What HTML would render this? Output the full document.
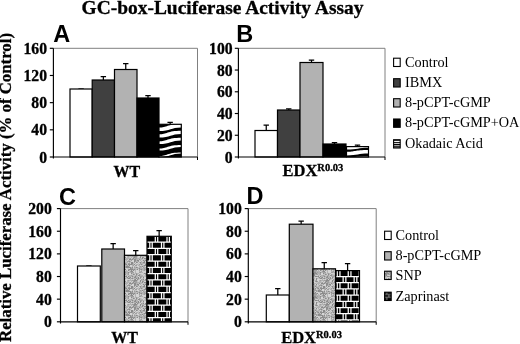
<!DOCTYPE html>
<html><head><meta charset="utf-8"><title>GC-box-Luciferase Activity Assay</title>
<style>html,body{margin:0;padding:0;background:#fff}svg{display:block;filter:grayscale(1)}</style></head><body>
<svg width="520" height="344" viewBox="0 0 520 344">
<defs>
<pattern id="zebra" patternUnits="userSpaceOnUse" width="22" height="8" patternTransform="translate(159,124)"><rect width="22" height="8" fill="#fff"/><path d="M-2 7 C4 7.5 10 4.5 14 3 S22 0.5 24 1.2 L24 4.8 C20 4.2 17 5.5 13 7 S4 11 -2 10.6Z" fill="#000"/><path d="M-2 -1 C4 -0.5 10 -3.5 14 -5 L14 -1 C10 1 4 3 -2 2.6Z" fill="#000"/></pattern>
<pattern id="brick" patternUnits="userSpaceOnUse" width="12.25" height="12.4"><rect width="12.25" height="12.4" fill="#000"/><path d="M0 0.5H12.25M0 6.7H12.25" stroke="#fff" stroke-width="1.1"/><path d="M2.6 0.5V6.7M5.2 0.5V6.7M8.7 6.7V12.9M11.3 6.7V12.9" stroke="#fff" stroke-width="1"/></pattern>
<pattern id="speck" patternUnits="userSpaceOnUse" width="24" height="24"><rect width="24" height="24" fill="#b2b2b2"/><rect x="0" y="0" width="1" height="1" fill="#d2d2d2"/><rect x="1" y="0" width="1" height="1" fill="#8a8a8a"/><rect x="3" y="0" width="1" height="1" fill="#8a8a8a"/><rect x="4" y="0" width="1" height="1" fill="#c4c4c4"/><rect x="5" y="0" width="1" height="1" fill="#9e9e9e"/><rect x="6" y="0" width="1" height="1" fill="#8a8a8a"/><rect x="7" y="0" width="1" height="1" fill="#c4c4c4"/><rect x="8" y="0" width="1" height="1" fill="#8a8a8a"/><rect x="9" y="0" width="1" height="1" fill="#9e9e9e"/><rect x="10" y="0" width="1" height="1" fill="#8a8a8a"/><rect x="11" y="0" width="1" height="1" fill="#8a8a8a"/><rect x="12" y="0" width="1" height="1" fill="#9e9e9e"/><rect x="14" y="0" width="1" height="1" fill="#8a8a8a"/><rect x="15" y="0" width="1" height="1" fill="#d2d2d2"/><rect x="18" y="0" width="1" height="1" fill="#c4c4c4"/><rect x="19" y="0" width="1" height="1" fill="#9e9e9e"/><rect x="21" y="0" width="1" height="1" fill="#8a8a8a"/><rect x="23" y="0" width="1" height="1" fill="#d2d2d2"/><rect x="0" y="1" width="1" height="1" fill="#8a8a8a"/><rect x="1" y="1" width="1" height="1" fill="#8a8a8a"/><rect x="2" y="1" width="1" height="1" fill="#d2d2d2"/><rect x="4" y="1" width="1" height="1" fill="#d2d2d2"/><rect x="5" y="1" width="1" height="1" fill="#c4c4c4"/><rect x="7" y="1" width="1" height="1" fill="#9e9e9e"/><rect x="8" y="1" width="1" height="1" fill="#c4c4c4"/><rect x="9" y="1" width="1" height="1" fill="#8a8a8a"/><rect x="10" y="1" width="1" height="1" fill="#8a8a8a"/><rect x="11" y="1" width="1" height="1" fill="#d2d2d2"/><rect x="13" y="1" width="1" height="1" fill="#9e9e9e"/><rect x="14" y="1" width="1" height="1" fill="#d2d2d2"/><rect x="15" y="1" width="1" height="1" fill="#c4c4c4"/><rect x="16" y="1" width="1" height="1" fill="#9e9e9e"/><rect x="17" y="1" width="1" height="1" fill="#d2d2d2"/><rect x="20" y="1" width="1" height="1" fill="#d2d2d2"/><rect x="21" y="1" width="1" height="1" fill="#c4c4c4"/><rect x="22" y="1" width="1" height="1" fill="#c4c4c4"/><rect x="1" y="2" width="1" height="1" fill="#d2d2d2"/><rect x="3" y="2" width="1" height="1" fill="#8a8a8a"/><rect x="4" y="2" width="1" height="1" fill="#9e9e9e"/><rect x="6" y="2" width="1" height="1" fill="#8a8a8a"/><rect x="7" y="2" width="1" height="1" fill="#c4c4c4"/><rect x="8" y="2" width="1" height="1" fill="#8a8a8a"/><rect x="11" y="2" width="1" height="1" fill="#c4c4c4"/><rect x="13" y="2" width="1" height="1" fill="#d2d2d2"/><rect x="15" y="2" width="1" height="1" fill="#c4c4c4"/><rect x="16" y="2" width="1" height="1" fill="#c4c4c4"/><rect x="17" y="2" width="1" height="1" fill="#9e9e9e"/><rect x="20" y="2" width="1" height="1" fill="#9e9e9e"/><rect x="22" y="2" width="1" height="1" fill="#8a8a8a"/><rect x="3" y="3" width="1" height="1" fill="#d2d2d2"/><rect x="4" y="3" width="1" height="1" fill="#9e9e9e"/><rect x="6" y="3" width="1" height="1" fill="#8a8a8a"/><rect x="7" y="3" width="1" height="1" fill="#9e9e9e"/><rect x="8" y="3" width="1" height="1" fill="#d2d2d2"/><rect x="9" y="3" width="1" height="1" fill="#8a8a8a"/><rect x="10" y="3" width="1" height="1" fill="#8a8a8a"/><rect x="12" y="3" width="1" height="1" fill="#8a8a8a"/><rect x="13" y="3" width="1" height="1" fill="#d2d2d2"/><rect x="14" y="3" width="1" height="1" fill="#9e9e9e"/><rect x="16" y="3" width="1" height="1" fill="#8a8a8a"/><rect x="17" y="3" width="1" height="1" fill="#9e9e9e"/><rect x="18" y="3" width="1" height="1" fill="#c4c4c4"/><rect x="22" y="3" width="1" height="1" fill="#d2d2d2"/><rect x="23" y="3" width="1" height="1" fill="#9e9e9e"/><rect x="0" y="4" width="1" height="1" fill="#9e9e9e"/><rect x="3" y="4" width="1" height="1" fill="#8a8a8a"/><rect x="4" y="4" width="1" height="1" fill="#d2d2d2"/><rect x="5" y="4" width="1" height="1" fill="#d2d2d2"/><rect x="6" y="4" width="1" height="1" fill="#d2d2d2"/><rect x="7" y="4" width="1" height="1" fill="#c4c4c4"/><rect x="8" y="4" width="1" height="1" fill="#c4c4c4"/><rect x="9" y="4" width="1" height="1" fill="#d2d2d2"/><rect x="10" y="4" width="1" height="1" fill="#8a8a8a"/><rect x="11" y="4" width="1" height="1" fill="#9e9e9e"/><rect x="12" y="4" width="1" height="1" fill="#9e9e9e"/><rect x="13" y="4" width="1" height="1" fill="#c4c4c4"/><rect x="16" y="4" width="1" height="1" fill="#c4c4c4"/><rect x="19" y="4" width="1" height="1" fill="#8a8a8a"/><rect x="0" y="5" width="1" height="1" fill="#9e9e9e"/><rect x="1" y="5" width="1" height="1" fill="#9e9e9e"/><rect x="2" y="5" width="1" height="1" fill="#8a8a8a"/><rect x="4" y="5" width="1" height="1" fill="#8a8a8a"/><rect x="5" y="5" width="1" height="1" fill="#8a8a8a"/><rect x="6" y="5" width="1" height="1" fill="#d2d2d2"/><rect x="7" y="5" width="1" height="1" fill="#d2d2d2"/><rect x="8" y="5" width="1" height="1" fill="#9e9e9e"/><rect x="9" y="5" width="1" height="1" fill="#8a8a8a"/><rect x="10" y="5" width="1" height="1" fill="#8a8a8a"/><rect x="11" y="5" width="1" height="1" fill="#8a8a8a"/><rect x="12" y="5" width="1" height="1" fill="#8a8a8a"/><rect x="13" y="5" width="1" height="1" fill="#9e9e9e"/><rect x="14" y="5" width="1" height="1" fill="#8a8a8a"/><rect x="17" y="5" width="1" height="1" fill="#8a8a8a"/><rect x="18" y="5" width="1" height="1" fill="#d2d2d2"/><rect x="19" y="5" width="1" height="1" fill="#9e9e9e"/><rect x="20" y="5" width="1" height="1" fill="#9e9e9e"/><rect x="21" y="5" width="1" height="1" fill="#8a8a8a"/><rect x="0" y="6" width="1" height="1" fill="#9e9e9e"/><rect x="1" y="6" width="1" height="1" fill="#c4c4c4"/><rect x="2" y="6" width="1" height="1" fill="#8a8a8a"/><rect x="3" y="6" width="1" height="1" fill="#8a8a8a"/><rect x="4" y="6" width="1" height="1" fill="#9e9e9e"/><rect x="5" y="6" width="1" height="1" fill="#d2d2d2"/><rect x="7" y="6" width="1" height="1" fill="#d2d2d2"/><rect x="8" y="6" width="1" height="1" fill="#8a8a8a"/><rect x="10" y="6" width="1" height="1" fill="#c4c4c4"/><rect x="11" y="6" width="1" height="1" fill="#8a8a8a"/><rect x="12" y="6" width="1" height="1" fill="#c4c4c4"/><rect x="13" y="6" width="1" height="1" fill="#8a8a8a"/><rect x="14" y="6" width="1" height="1" fill="#c4c4c4"/><rect x="18" y="6" width="1" height="1" fill="#d2d2d2"/><rect x="19" y="6" width="1" height="1" fill="#9e9e9e"/><rect x="20" y="6" width="1" height="1" fill="#d2d2d2"/><rect x="22" y="6" width="1" height="1" fill="#c4c4c4"/><rect x="0" y="7" width="1" height="1" fill="#d2d2d2"/><rect x="1" y="7" width="1" height="1" fill="#d2d2d2"/><rect x="8" y="7" width="1" height="1" fill="#d2d2d2"/><rect x="9" y="7" width="1" height="1" fill="#c4c4c4"/><rect x="10" y="7" width="1" height="1" fill="#9e9e9e"/><rect x="11" y="7" width="1" height="1" fill="#8a8a8a"/><rect x="12" y="7" width="1" height="1" fill="#8a8a8a"/><rect x="13" y="7" width="1" height="1" fill="#d2d2d2"/><rect x="14" y="7" width="1" height="1" fill="#d2d2d2"/><rect x="17" y="7" width="1" height="1" fill="#9e9e9e"/><rect x="21" y="7" width="1" height="1" fill="#9e9e9e"/><rect x="22" y="7" width="1" height="1" fill="#d2d2d2"/><rect x="23" y="7" width="1" height="1" fill="#d2d2d2"/><rect x="0" y="8" width="1" height="1" fill="#d2d2d2"/><rect x="1" y="8" width="1" height="1" fill="#d2d2d2"/><rect x="5" y="8" width="1" height="1" fill="#9e9e9e"/><rect x="8" y="8" width="1" height="1" fill="#8a8a8a"/><rect x="13" y="8" width="1" height="1" fill="#9e9e9e"/><rect x="14" y="8" width="1" height="1" fill="#d2d2d2"/><rect x="16" y="8" width="1" height="1" fill="#d2d2d2"/><rect x="19" y="8" width="1" height="1" fill="#9e9e9e"/><rect x="20" y="8" width="1" height="1" fill="#9e9e9e"/><rect x="23" y="8" width="1" height="1" fill="#d2d2d2"/><rect x="0" y="9" width="1" height="1" fill="#8a8a8a"/><rect x="1" y="9" width="1" height="1" fill="#8a8a8a"/><rect x="4" y="9" width="1" height="1" fill="#8a8a8a"/><rect x="8" y="9" width="1" height="1" fill="#9e9e9e"/><rect x="9" y="9" width="1" height="1" fill="#c4c4c4"/><rect x="10" y="9" width="1" height="1" fill="#8a8a8a"/><rect x="11" y="9" width="1" height="1" fill="#8a8a8a"/><rect x="14" y="9" width="1" height="1" fill="#c4c4c4"/><rect x="16" y="9" width="1" height="1" fill="#9e9e9e"/><rect x="19" y="9" width="1" height="1" fill="#d2d2d2"/><rect x="20" y="9" width="1" height="1" fill="#d2d2d2"/><rect x="21" y="9" width="1" height="1" fill="#d2d2d2"/><rect x="22" y="9" width="1" height="1" fill="#d2d2d2"/><rect x="23" y="9" width="1" height="1" fill="#c4c4c4"/><rect x="0" y="10" width="1" height="1" fill="#d2d2d2"/><rect x="1" y="10" width="1" height="1" fill="#9e9e9e"/><rect x="2" y="10" width="1" height="1" fill="#8a8a8a"/><rect x="4" y="10" width="1" height="1" fill="#9e9e9e"/><rect x="5" y="10" width="1" height="1" fill="#9e9e9e"/><rect x="6" y="10" width="1" height="1" fill="#c4c4c4"/><rect x="8" y="10" width="1" height="1" fill="#9e9e9e"/><rect x="10" y="10" width="1" height="1" fill="#c4c4c4"/><rect x="11" y="10" width="1" height="1" fill="#c4c4c4"/><rect x="12" y="10" width="1" height="1" fill="#c4c4c4"/><rect x="13" y="10" width="1" height="1" fill="#8a8a8a"/><rect x="14" y="10" width="1" height="1" fill="#9e9e9e"/><rect x="15" y="10" width="1" height="1" fill="#d2d2d2"/><rect x="16" y="10" width="1" height="1" fill="#8a8a8a"/><rect x="18" y="10" width="1" height="1" fill="#d2d2d2"/><rect x="19" y="10" width="1" height="1" fill="#9e9e9e"/><rect x="21" y="10" width="1" height="1" fill="#c4c4c4"/><rect x="22" y="10" width="1" height="1" fill="#d2d2d2"/><rect x="23" y="10" width="1" height="1" fill="#c4c4c4"/><rect x="0" y="11" width="1" height="1" fill="#c4c4c4"/><rect x="2" y="11" width="1" height="1" fill="#8a8a8a"/><rect x="3" y="11" width="1" height="1" fill="#c4c4c4"/><rect x="4" y="11" width="1" height="1" fill="#d2d2d2"/><rect x="5" y="11" width="1" height="1" fill="#d2d2d2"/><rect x="7" y="11" width="1" height="1" fill="#c4c4c4"/><rect x="8" y="11" width="1" height="1" fill="#c4c4c4"/><rect x="11" y="11" width="1" height="1" fill="#9e9e9e"/><rect x="13" y="11" width="1" height="1" fill="#c4c4c4"/><rect x="14" y="11" width="1" height="1" fill="#c4c4c4"/><rect x="16" y="11" width="1" height="1" fill="#9e9e9e"/><rect x="17" y="11" width="1" height="1" fill="#c4c4c4"/><rect x="18" y="11" width="1" height="1" fill="#9e9e9e"/><rect x="23" y="11" width="1" height="1" fill="#d2d2d2"/><rect x="0" y="12" width="1" height="1" fill="#c4c4c4"/><rect x="3" y="12" width="1" height="1" fill="#8a8a8a"/><rect x="4" y="12" width="1" height="1" fill="#8a8a8a"/><rect x="5" y="12" width="1" height="1" fill="#9e9e9e"/><rect x="6" y="12" width="1" height="1" fill="#8a8a8a"/><rect x="7" y="12" width="1" height="1" fill="#d2d2d2"/><rect x="8" y="12" width="1" height="1" fill="#8a8a8a"/><rect x="12" y="12" width="1" height="1" fill="#8a8a8a"/><rect x="15" y="12" width="1" height="1" fill="#8a8a8a"/><rect x="18" y="12" width="1" height="1" fill="#d2d2d2"/><rect x="20" y="12" width="1" height="1" fill="#9e9e9e"/><rect x="21" y="12" width="1" height="1" fill="#c4c4c4"/><rect x="0" y="13" width="1" height="1" fill="#d2d2d2"/><rect x="1" y="13" width="1" height="1" fill="#9e9e9e"/><rect x="2" y="13" width="1" height="1" fill="#c4c4c4"/><rect x="3" y="13" width="1" height="1" fill="#d2d2d2"/><rect x="4" y="13" width="1" height="1" fill="#d2d2d2"/><rect x="5" y="13" width="1" height="1" fill="#d2d2d2"/><rect x="7" y="13" width="1" height="1" fill="#8a8a8a"/><rect x="8" y="13" width="1" height="1" fill="#c4c4c4"/><rect x="9" y="13" width="1" height="1" fill="#9e9e9e"/><rect x="10" y="13" width="1" height="1" fill="#8a8a8a"/><rect x="11" y="13" width="1" height="1" fill="#d2d2d2"/><rect x="13" y="13" width="1" height="1" fill="#c4c4c4"/><rect x="14" y="13" width="1" height="1" fill="#8a8a8a"/><rect x="18" y="13" width="1" height="1" fill="#8a8a8a"/><rect x="19" y="13" width="1" height="1" fill="#d2d2d2"/><rect x="20" y="13" width="1" height="1" fill="#8a8a8a"/><rect x="22" y="13" width="1" height="1" fill="#d2d2d2"/><rect x="23" y="13" width="1" height="1" fill="#8a8a8a"/><rect x="0" y="14" width="1" height="1" fill="#9e9e9e"/><rect x="3" y="14" width="1" height="1" fill="#d2d2d2"/><rect x="4" y="14" width="1" height="1" fill="#8a8a8a"/><rect x="6" y="14" width="1" height="1" fill="#c4c4c4"/><rect x="8" y="14" width="1" height="1" fill="#8a8a8a"/><rect x="9" y="14" width="1" height="1" fill="#8a8a8a"/><rect x="11" y="14" width="1" height="1" fill="#9e9e9e"/><rect x="12" y="14" width="1" height="1" fill="#8a8a8a"/><rect x="16" y="14" width="1" height="1" fill="#8a8a8a"/><rect x="18" y="14" width="1" height="1" fill="#8a8a8a"/><rect x="20" y="14" width="1" height="1" fill="#9e9e9e"/><rect x="21" y="14" width="1" height="1" fill="#d2d2d2"/><rect x="22" y="14" width="1" height="1" fill="#c4c4c4"/><rect x="0" y="15" width="1" height="1" fill="#d2d2d2"/><rect x="1" y="15" width="1" height="1" fill="#8a8a8a"/><rect x="2" y="15" width="1" height="1" fill="#c4c4c4"/><rect x="3" y="15" width="1" height="1" fill="#d2d2d2"/><rect x="4" y="15" width="1" height="1" fill="#8a8a8a"/><rect x="5" y="15" width="1" height="1" fill="#d2d2d2"/><rect x="6" y="15" width="1" height="1" fill="#8a8a8a"/><rect x="7" y="15" width="1" height="1" fill="#d2d2d2"/><rect x="8" y="15" width="1" height="1" fill="#d2d2d2"/><rect x="9" y="15" width="1" height="1" fill="#d2d2d2"/><rect x="11" y="15" width="1" height="1" fill="#d2d2d2"/><rect x="12" y="15" width="1" height="1" fill="#c4c4c4"/><rect x="13" y="15" width="1" height="1" fill="#d2d2d2"/><rect x="14" y="15" width="1" height="1" fill="#9e9e9e"/><rect x="15" y="15" width="1" height="1" fill="#8a8a8a"/><rect x="16" y="15" width="1" height="1" fill="#d2d2d2"/><rect x="17" y="15" width="1" height="1" fill="#8a8a8a"/><rect x="19" y="15" width="1" height="1" fill="#c4c4c4"/><rect x="20" y="15" width="1" height="1" fill="#d2d2d2"/><rect x="21" y="15" width="1" height="1" fill="#9e9e9e"/><rect x="23" y="15" width="1" height="1" fill="#8a8a8a"/><rect x="1" y="16" width="1" height="1" fill="#9e9e9e"/><rect x="2" y="16" width="1" height="1" fill="#c4c4c4"/><rect x="4" y="16" width="1" height="1" fill="#9e9e9e"/><rect x="5" y="16" width="1" height="1" fill="#c4c4c4"/><rect x="8" y="16" width="1" height="1" fill="#9e9e9e"/><rect x="12" y="16" width="1" height="1" fill="#9e9e9e"/><rect x="13" y="16" width="1" height="1" fill="#9e9e9e"/><rect x="14" y="16" width="1" height="1" fill="#8a8a8a"/><rect x="15" y="16" width="1" height="1" fill="#8a8a8a"/><rect x="16" y="16" width="1" height="1" fill="#8a8a8a"/><rect x="18" y="16" width="1" height="1" fill="#d2d2d2"/><rect x="19" y="16" width="1" height="1" fill="#d2d2d2"/><rect x="20" y="16" width="1" height="1" fill="#8a8a8a"/><rect x="0" y="17" width="1" height="1" fill="#d2d2d2"/><rect x="1" y="17" width="1" height="1" fill="#d2d2d2"/><rect x="2" y="17" width="1" height="1" fill="#d2d2d2"/><rect x="3" y="17" width="1" height="1" fill="#9e9e9e"/><rect x="4" y="17" width="1" height="1" fill="#8a8a8a"/><rect x="5" y="17" width="1" height="1" fill="#9e9e9e"/><rect x="6" y="17" width="1" height="1" fill="#d2d2d2"/><rect x="9" y="17" width="1" height="1" fill="#c4c4c4"/><rect x="10" y="17" width="1" height="1" fill="#d2d2d2"/><rect x="12" y="17" width="1" height="1" fill="#d2d2d2"/><rect x="13" y="17" width="1" height="1" fill="#9e9e9e"/><rect x="14" y="17" width="1" height="1" fill="#8a8a8a"/><rect x="15" y="17" width="1" height="1" fill="#9e9e9e"/><rect x="16" y="17" width="1" height="1" fill="#9e9e9e"/><rect x="17" y="17" width="1" height="1" fill="#c4c4c4"/><rect x="18" y="17" width="1" height="1" fill="#d2d2d2"/><rect x="19" y="17" width="1" height="1" fill="#c4c4c4"/><rect x="20" y="17" width="1" height="1" fill="#8a8a8a"/><rect x="21" y="17" width="1" height="1" fill="#d2d2d2"/><rect x="22" y="17" width="1" height="1" fill="#8a8a8a"/><rect x="23" y="17" width="1" height="1" fill="#9e9e9e"/><rect x="0" y="18" width="1" height="1" fill="#8a8a8a"/><rect x="1" y="18" width="1" height="1" fill="#8a8a8a"/><rect x="2" y="18" width="1" height="1" fill="#d2d2d2"/><rect x="3" y="18" width="1" height="1" fill="#d2d2d2"/><rect x="4" y="18" width="1" height="1" fill="#c4c4c4"/><rect x="5" y="18" width="1" height="1" fill="#c4c4c4"/><rect x="10" y="18" width="1" height="1" fill="#9e9e9e"/><rect x="11" y="18" width="1" height="1" fill="#d2d2d2"/><rect x="13" y="18" width="1" height="1" fill="#8a8a8a"/><rect x="16" y="18" width="1" height="1" fill="#8a8a8a"/><rect x="22" y="18" width="1" height="1" fill="#8a8a8a"/><rect x="23" y="18" width="1" height="1" fill="#c4c4c4"/><rect x="0" y="19" width="1" height="1" fill="#c4c4c4"/><rect x="4" y="19" width="1" height="1" fill="#c4c4c4"/><rect x="8" y="19" width="1" height="1" fill="#d2d2d2"/><rect x="9" y="19" width="1" height="1" fill="#8a8a8a"/><rect x="10" y="19" width="1" height="1" fill="#8a8a8a"/><rect x="11" y="19" width="1" height="1" fill="#9e9e9e"/><rect x="12" y="19" width="1" height="1" fill="#8a8a8a"/><rect x="14" y="19" width="1" height="1" fill="#c4c4c4"/><rect x="18" y="19" width="1" height="1" fill="#c4c4c4"/><rect x="19" y="19" width="1" height="1" fill="#8a8a8a"/><rect x="22" y="19" width="1" height="1" fill="#c4c4c4"/><rect x="23" y="19" width="1" height="1" fill="#c4c4c4"/><rect x="1" y="20" width="1" height="1" fill="#8a8a8a"/><rect x="3" y="20" width="1" height="1" fill="#d2d2d2"/><rect x="4" y="20" width="1" height="1" fill="#8a8a8a"/><rect x="5" y="20" width="1" height="1" fill="#d2d2d2"/><rect x="7" y="20" width="1" height="1" fill="#d2d2d2"/><rect x="10" y="20" width="1" height="1" fill="#c4c4c4"/><rect x="11" y="20" width="1" height="1" fill="#9e9e9e"/><rect x="12" y="20" width="1" height="1" fill="#9e9e9e"/><rect x="17" y="20" width="1" height="1" fill="#8a8a8a"/><rect x="18" y="20" width="1" height="1" fill="#8a8a8a"/><rect x="19" y="20" width="1" height="1" fill="#d2d2d2"/><rect x="21" y="20" width="1" height="1" fill="#d2d2d2"/><rect x="22" y="20" width="1" height="1" fill="#c4c4c4"/><rect x="23" y="20" width="1" height="1" fill="#8a8a8a"/><rect x="0" y="21" width="1" height="1" fill="#8a8a8a"/><rect x="1" y="21" width="1" height="1" fill="#d2d2d2"/><rect x="5" y="21" width="1" height="1" fill="#d2d2d2"/><rect x="6" y="21" width="1" height="1" fill="#c4c4c4"/><rect x="7" y="21" width="1" height="1" fill="#9e9e9e"/><rect x="8" y="21" width="1" height="1" fill="#9e9e9e"/><rect x="9" y="21" width="1" height="1" fill="#8a8a8a"/><rect x="11" y="21" width="1" height="1" fill="#d2d2d2"/><rect x="14" y="21" width="1" height="1" fill="#8a8a8a"/><rect x="15" y="21" width="1" height="1" fill="#9e9e9e"/><rect x="18" y="21" width="1" height="1" fill="#9e9e9e"/><rect x="19" y="21" width="1" height="1" fill="#d2d2d2"/><rect x="20" y="21" width="1" height="1" fill="#d2d2d2"/><rect x="22" y="21" width="1" height="1" fill="#d2d2d2"/><rect x="23" y="21" width="1" height="1" fill="#c4c4c4"/><rect x="0" y="22" width="1" height="1" fill="#8a8a8a"/><rect x="1" y="22" width="1" height="1" fill="#c4c4c4"/><rect x="3" y="22" width="1" height="1" fill="#8a8a8a"/><rect x="5" y="22" width="1" height="1" fill="#c4c4c4"/><rect x="8" y="22" width="1" height="1" fill="#d2d2d2"/><rect x="10" y="22" width="1" height="1" fill="#c4c4c4"/><rect x="11" y="22" width="1" height="1" fill="#8a8a8a"/><rect x="12" y="22" width="1" height="1" fill="#8a8a8a"/><rect x="13" y="22" width="1" height="1" fill="#c4c4c4"/><rect x="14" y="22" width="1" height="1" fill="#9e9e9e"/><rect x="15" y="22" width="1" height="1" fill="#d2d2d2"/><rect x="16" y="22" width="1" height="1" fill="#8a8a8a"/><rect x="17" y="22" width="1" height="1" fill="#9e9e9e"/><rect x="18" y="22" width="1" height="1" fill="#d2d2d2"/><rect x="20" y="22" width="1" height="1" fill="#8a8a8a"/><rect x="23" y="22" width="1" height="1" fill="#8a8a8a"/><rect x="3" y="23" width="1" height="1" fill="#d2d2d2"/><rect x="4" y="23" width="1" height="1" fill="#9e9e9e"/><rect x="5" y="23" width="1" height="1" fill="#9e9e9e"/><rect x="7" y="23" width="1" height="1" fill="#c4c4c4"/><rect x="8" y="23" width="1" height="1" fill="#9e9e9e"/><rect x="9" y="23" width="1" height="1" fill="#9e9e9e"/><rect x="10" y="23" width="1" height="1" fill="#d2d2d2"/><rect x="11" y="23" width="1" height="1" fill="#8a8a8a"/><rect x="12" y="23" width="1" height="1" fill="#8a8a8a"/><rect x="14" y="23" width="1" height="1" fill="#d2d2d2"/><rect x="16" y="23" width="1" height="1" fill="#d2d2d2"/><rect x="17" y="23" width="1" height="1" fill="#d2d2d2"/><rect x="18" y="23" width="1" height="1" fill="#c4c4c4"/><rect x="19" y="23" width="1" height="1" fill="#d2d2d2"/><rect x="20" y="23" width="1" height="1" fill="#9e9e9e"/><rect x="20" y="12" width="2" height="1" fill="#a0a0a0"/><rect x="2" y="1" width="2" height="2" fill="#a0a0a0"/><rect x="14" y="19" width="2" height="2" fill="#8e8e8e"/><rect x="15" y="1" width="2" height="1" fill="#a0a0a0"/><rect x="5" y="15" width="2" height="2" fill="#d6d6d6"/><rect x="9" y="9" width="2" height="2" fill="#d6d6d6"/><rect x="12" y="20" width="2" height="2" fill="#8e8e8e"/><rect x="15" y="17" width="2" height="2" fill="#a0a0a0"/><rect x="3" y="5" width="2" height="1" fill="#a0a0a0"/><rect x="2" y="6" width="2" height="2" fill="#a0a0a0"/><rect x="17" y="7" width="2" height="2" fill="#d6d6d6"/><rect x="14" y="13" width="2" height="1" fill="#8e8e8e"/><rect x="7" y="2" width="2" height="2" fill="#8e8e8e"/><rect x="17" y="2" width="2" height="1" fill="#d6d6d6"/><rect x="11" y="8" width="2" height="1" fill="#a0a0a0"/><rect x="0" y="13" width="2" height="2" fill="#d6d6d6"/><rect x="16" y="6" width="2" height="2" fill="#d6d6d6"/><rect x="10" y="1" width="2" height="2" fill="#d6d6d6"/><rect x="18" y="11" width="2" height="1" fill="#8e8e8e"/><rect x="2" y="8" width="2" height="2" fill="#8e8e8e"/><rect x="12" y="20" width="2" height="2" fill="#d6d6d6"/><rect x="9" y="0" width="2" height="1" fill="#8e8e8e"/></pattern>
<pattern id="zl" patternUnits="userSpaceOnUse" width="7" height="2.2" patternTransform="translate(393.6,139.7)"><rect width="7" height="2.2" fill="#fff"/><rect width="7" height="1.2" fill="#000"/></pattern><pattern id="bl" patternUnits="userSpaceOnUse" width="6.6" height="8.3" patternTransform="translate(384.6,291.7)"><rect width="6.6" height="8.3" fill="#000"/><path d="M0 2.8H6.6M0 5.6H6.6M2.2 0V2.8M4.4 2.8V5.6M2.2 5.6V8.3" stroke="#bbb" stroke-width="0.7"/></pattern></defs>
<text x="81.5" y="14" font-family="'Liberation Serif',serif" font-weight="bold" stroke="#000" stroke-width="0.3" font-size="19" textLength="282" lengthAdjust="spacingAndGlyphs">GC-box-Luciferase Activity Assay</text>
<text transform="translate(11.3,342) rotate(-90)" font-family="'Liberation Serif',serif" font-weight="bold" stroke="#000" stroke-width="0.3" font-size="17" textLength="309" lengthAdjust="spacingAndGlyphs">Relative Luciferase Activity (% of Control)</text>
<path d="M53.4 48.3H197.5V157" fill="none" stroke="#808080" stroke-width="1"/>
<path d="M81.1 89V89M78.39999999999999 89H83.8" stroke="#000" stroke-width="1.25" fill="none"/>
<rect x="70" y="89" width="22.200000000000003" height="68" fill="#fff" stroke="#000" stroke-width="1.2"/>
<path d="M103.35 80V76.5M100.64999999999999 76.5H106.05" stroke="#000" stroke-width="1.25" fill="none"/>
<rect x="92.2" y="80" width="22.299999999999997" height="77" fill="#404040" stroke="#000" stroke-width="1.2"/>
<path d="M125.75 69.5V63.5M123.05 63.5H128.45" stroke="#000" stroke-width="1.25" fill="none"/>
<rect x="114.5" y="69.5" width="22.5" height="87.5" fill="#b2b2b2" stroke="#000" stroke-width="1.2"/>
<path d="M148.0 98V95.5M145.3 95.5H150.7" stroke="#000" stroke-width="1.25" fill="none"/>
<rect x="137" y="98" width="22" height="59" fill="#000" stroke="#000" stroke-width="1.2"/>
<path d="M170.15 124.3V122.3M167.45000000000002 122.3H172.85" stroke="#000" stroke-width="1.25" fill="none"/>
<clipPath id="zc1"><rect x="159" y="124.3" width="22.30000000000001" height="32.7"/></clipPath><g clip-path="url(#zc1)"><rect x="159" y="124.3" width="22.30000000000001" height="32.7" fill="#fff"/><path d="M159.00 118.00C170.60 118.00 170.60 114.40 181.30 114.40L181.30 117.50C167.03 117.50 167.03 121.10 159.00 121.10Z" fill="#000"/><path d="M159.00 124.50C170.60 124.50 170.60 120.90 181.30 120.90L181.30 124.00C167.03 124.00 167.03 127.60 159.00 127.60Z" fill="#000"/><path d="M159.00 131.00C170.60 131.00 170.60 127.40 181.30 127.40L181.30 130.76C167.03 130.76 167.03 134.36 159.00 134.36Z" fill="#000"/><path d="M159.00 137.50C170.60 137.50 170.60 133.90 181.30 133.90L181.30 137.79C167.03 137.79 167.03 141.39 159.00 141.39Z" fill="#000"/><path d="M159.00 144.00C170.60 144.00 170.60 140.40 181.30 140.40L181.30 145.01C167.03 145.01 167.03 148.61 159.00 148.61Z" fill="#000"/><path d="M159.00 150.50C170.60 150.50 170.60 146.90 181.30 146.90L181.30 152.39C167.03 152.39 167.03 155.99 159.00 155.99Z" fill="#000"/><path d="M159.00 157.00C170.60 157.00 170.60 153.40 181.30 153.40L181.30 159.91C167.03 159.91 167.03 163.51 159.00 163.51Z" fill="#000"/></g>
<rect x="159" y="124.3" width="22.30000000000001" height="32.7" fill="none" stroke="#000" stroke-width="1.2"/>
<path d="M53.4 48.3V158.6M53.4 157H197.5" fill="none" stroke="#000" stroke-width="1.15"/>
<path d="M197.5 157v3" stroke="#000" stroke-width="1"/>
<path d="M49.8 48.3H53.4" stroke="#000" stroke-width="1.15"/>
<text x="47" y="53.9" text-anchor="end" font-family="'Liberation Serif',serif" font-weight="bold" stroke="#000" stroke-width="0.3" font-size="15.7">160</text>
<path d="M49.8 75.475H53.4" stroke="#000" stroke-width="1.15"/>
<text x="47" y="81.07499999999999" text-anchor="end" font-family="'Liberation Serif',serif" font-weight="bold" stroke="#000" stroke-width="0.3" font-size="15.7">120</text>
<path d="M49.8 102.65H53.4" stroke="#000" stroke-width="1.15"/>
<text x="47" y="108.25" text-anchor="end" font-family="'Liberation Serif',serif" font-weight="bold" stroke="#000" stroke-width="0.3" font-size="15.7">80</text>
<path d="M49.8 129.825H53.4" stroke="#000" stroke-width="1.15"/>
<text x="47" y="135.42499999999998" text-anchor="end" font-family="'Liberation Serif',serif" font-weight="bold" stroke="#000" stroke-width="0.3" font-size="15.7">40</text>
<path d="M49.8 157.0H53.4" stroke="#000" stroke-width="1.15"/>
<text x="47" y="162.6" text-anchor="end" font-family="'Liberation Serif',serif" font-weight="bold" stroke="#000" stroke-width="0.3" font-size="15.7">0</text>
<text x="53.3" y="42.2" font-family="'Liberation Sans',sans-serif" font-weight="bold" font-size="23.5">A</text>
<text x="113.6" y="176.6" font-family="'Liberation Serif',serif" font-weight="bold" stroke="#000" stroke-width="0.3" font-size="16">WT</text>
<path d="M238.4 48.3H385V157" fill="none" stroke="#808080" stroke-width="1"/>
<path d="M266.25 130.5V125M263.55 125H268.95" stroke="#000" stroke-width="1.25" fill="none"/>
<rect x="255" y="130.5" width="22.5" height="26.5" fill="#fff" stroke="#000" stroke-width="1.2"/>
<path d="M288.75 110V108.8M286.05 108.8H291.45" stroke="#000" stroke-width="1.25" fill="none"/>
<rect x="277.5" y="110" width="22.5" height="47" fill="#404040" stroke="#000" stroke-width="1.2"/>
<path d="M311.5 62.5V60M308.8 60H314.2" stroke="#000" stroke-width="1.25" fill="none"/>
<rect x="300" y="62.5" width="23" height="94.5" fill="#b2b2b2" stroke="#000" stroke-width="1.2"/>
<path d="M334.5 144V142.5M331.8 142.5H337.2" stroke="#000" stroke-width="1.25" fill="none"/>
<rect x="323" y="144" width="23" height="13" fill="#000" stroke="#000" stroke-width="1.2"/>
<path d="M357.5 146.6V145.1M354.8 145.1H360.2" stroke="#000" stroke-width="1.25" fill="none"/>
<clipPath id="zc2"><rect x="346.5" y="146.6" width="22.0" height="10.400000000000006"/></clipPath><g clip-path="url(#zc2)"><rect x="346.5" y="146.6" width="22.0" height="10.400000000000006" fill="#fff"/><path d="M346.50 143.80C357.94 143.80 357.94 142.00 368.50 142.00L368.50 144.20C354.42 144.20 354.42 146.00 346.50 146.00Z" fill="#000"/><path d="M346.50 149.60C357.94 149.60 357.94 147.80 368.50 147.80L368.50 150.00C354.42 150.00 354.42 151.80 346.50 151.80Z" fill="#000"/><path d="M346.50 155.40C357.94 155.40 357.94 153.60 368.50 153.60L368.50 156.10C354.42 156.10 354.42 157.90 346.50 157.90Z" fill="#000"/></g>
<rect x="346.5" y="146.6" width="22.0" height="10.400000000000006" fill="none" stroke="#000" stroke-width="1.2"/>
<path d="M238.4 48.3V158.6M238.4 157H385" fill="none" stroke="#000" stroke-width="1.15"/>
<path d="M385 157v3" stroke="#000" stroke-width="1"/>
<path d="M234.8 48.3H238.4" stroke="#000" stroke-width="1.15"/>
<text x="232.6" y="53.9" text-anchor="end" font-family="'Liberation Serif',serif" font-weight="bold" stroke="#000" stroke-width="0.3" font-size="15.7">100</text>
<path d="M234.8 70.03999999999999H238.4" stroke="#000" stroke-width="1.15"/>
<text x="232.6" y="75.63999999999999" text-anchor="end" font-family="'Liberation Serif',serif" font-weight="bold" stroke="#000" stroke-width="0.3" font-size="15.7">80</text>
<path d="M234.8 91.78H238.4" stroke="#000" stroke-width="1.15"/>
<text x="232.6" y="97.38" text-anchor="end" font-family="'Liberation Serif',serif" font-weight="bold" stroke="#000" stroke-width="0.3" font-size="15.7">60</text>
<path d="M234.8 113.52H238.4" stroke="#000" stroke-width="1.15"/>
<text x="232.6" y="119.11999999999999" text-anchor="end" font-family="'Liberation Serif',serif" font-weight="bold" stroke="#000" stroke-width="0.3" font-size="15.7">40</text>
<path d="M234.8 135.26H238.4" stroke="#000" stroke-width="1.15"/>
<text x="232.6" y="140.85999999999999" text-anchor="end" font-family="'Liberation Serif',serif" font-weight="bold" stroke="#000" stroke-width="0.3" font-size="15.7">20</text>
<path d="M234.8 157.0H238.4" stroke="#000" stroke-width="1.15"/>
<text x="232.6" y="162.6" text-anchor="end" font-family="'Liberation Serif',serif" font-weight="bold" stroke="#000" stroke-width="0.3" font-size="15.7">0</text>
<text x="236.2" y="42" font-family="'Liberation Sans',sans-serif" font-weight="bold" font-size="23.5">B</text>
<text x="282.5" y="176" font-family="'Liberation Serif',serif" font-weight="bold" stroke="#000" stroke-width="0.3" font-size="16.5">EDX<tspan font-size="10.5" dy="-5">R0.03</tspan></text>
<path d="M60.5 208.6H188V321.8" fill="none" stroke="#808080" stroke-width="1"/>
<path d="M88.9 266V266M86.2 266H91.60000000000001" stroke="#000" stroke-width="1.25" fill="none"/>
<rect x="77.5" y="266" width="22.799999999999997" height="55.80000000000001" fill="#fff" stroke="#000" stroke-width="1.2"/>
<path d="M113.15 249V243.7M110.45 243.7H115.85000000000001" stroke="#000" stroke-width="1.25" fill="none"/>
<rect x="101.8" y="249" width="22.700000000000003" height="72.80000000000001" fill="#b2b2b2" stroke="#000" stroke-width="1.2"/>
<path d="M135.75 255.3V250.7M133.05 250.7H138.45" stroke="#000" stroke-width="1.25" fill="none"/>
<rect x="124.5" y="255.3" width="22.5" height="66.5" fill="url(#speck)" stroke="#000" stroke-width="1.2"/>
<path d="M159.15 236.3V230.7M156.45000000000002 230.7H161.85" stroke="#000" stroke-width="1.25" fill="none"/>
<clipPath id="bc3"><rect x="147" y="236.3" width="24.30000000000001" height="85.5"/></clipPath><g clip-path="url(#bc3)"><rect x="147" y="236.3" width="24.30000000000001" height="85.5" fill="#000"/><path d="M147 242.10H171.3M131.90 236.30V242.10M134.30 236.30V242.10M143.60 236.30V242.10M146.00 236.30V242.10M155.30 236.30V242.10M157.70 236.30V242.10M167.00 236.30V242.10M169.40 236.30V242.10M178.70 236.30V242.10M181.10 236.30V242.10M147 248.40H171.3M126.40 242.10V248.40M128.80 242.10V248.40M138.10 242.10V248.40M140.50 242.10V248.40M149.80 242.10V248.40M152.20 242.10V248.40M161.50 242.10V248.40M163.90 242.10V248.40M173.20 242.10V248.40M175.60 242.10V248.40M147 254.70H171.3M131.90 248.40V254.70M134.30 248.40V254.70M143.60 248.40V254.70M146.00 248.40V254.70M155.30 248.40V254.70M157.70 248.40V254.70M167.00 248.40V254.70M169.40 248.40V254.70M178.70 248.40V254.70M181.10 248.40V254.70M147 261.00H171.3M126.40 254.70V261.00M128.80 254.70V261.00M138.10 254.70V261.00M140.50 254.70V261.00M149.80 254.70V261.00M152.20 254.70V261.00M161.50 254.70V261.00M163.90 254.70V261.00M173.20 254.70V261.00M175.60 254.70V261.00M147 267.30H171.3M131.90 261.00V267.30M134.30 261.00V267.30M143.60 261.00V267.30M146.00 261.00V267.30M155.30 261.00V267.30M157.70 261.00V267.30M167.00 261.00V267.30M169.40 261.00V267.30M178.70 261.00V267.30M181.10 261.00V267.30M147 273.60H171.3M126.40 267.30V273.60M128.80 267.30V273.60M138.10 267.30V273.60M140.50 267.30V273.60M149.80 267.30V273.60M152.20 267.30V273.60M161.50 267.30V273.60M163.90 267.30V273.60M173.20 267.30V273.60M175.60 267.30V273.60M147 279.90H171.3M131.90 273.60V279.90M134.30 273.60V279.90M143.60 273.60V279.90M146.00 273.60V279.90M155.30 273.60V279.90M157.70 273.60V279.90M167.00 273.60V279.90M169.40 273.60V279.90M178.70 273.60V279.90M181.10 273.60V279.90M147 286.20H171.3M126.40 279.90V286.20M128.80 279.90V286.20M138.10 279.90V286.20M140.50 279.90V286.20M149.80 279.90V286.20M152.20 279.90V286.20M161.50 279.90V286.20M163.90 279.90V286.20M173.20 279.90V286.20M175.60 279.90V286.20M147 292.50H171.3M131.90 286.20V292.50M134.30 286.20V292.50M143.60 286.20V292.50M146.00 286.20V292.50M155.30 286.20V292.50M157.70 286.20V292.50M167.00 286.20V292.50M169.40 286.20V292.50M178.70 286.20V292.50M181.10 286.20V292.50M147 298.80H171.3M126.40 292.50V298.80M128.80 292.50V298.80M138.10 292.50V298.80M140.50 292.50V298.80M149.80 292.50V298.80M152.20 292.50V298.80M161.50 292.50V298.80M163.90 292.50V298.80M173.20 292.50V298.80M175.60 292.50V298.80M147 305.10H171.3M131.90 298.80V305.10M134.30 298.80V305.10M143.60 298.80V305.10M146.00 298.80V305.10M155.30 298.80V305.10M157.70 298.80V305.10M167.00 298.80V305.10M169.40 298.80V305.10M178.70 298.80V305.10M181.10 298.80V305.10M147 311.40H171.3M126.40 305.10V311.40M128.80 305.10V311.40M138.10 305.10V311.40M140.50 305.10V311.40M149.80 305.10V311.40M152.20 305.10V311.40M161.50 305.10V311.40M163.90 305.10V311.40M173.20 305.10V311.40M175.60 305.10V311.40M147 317.70H171.3M131.90 311.40V317.70M134.30 311.40V317.70M143.60 311.40V317.70M146.00 311.40V317.70M155.30 311.40V317.70M157.70 311.40V317.70M167.00 311.40V317.70M169.40 311.40V317.70M178.70 311.40V317.70M181.10 311.40V317.70M147 324.00H171.3M126.40 317.70V324.00M128.80 317.70V324.00M138.10 317.70V324.00M140.50 317.70V324.00M149.80 317.70V324.00M152.20 317.70V324.00M161.50 317.70V324.00M163.90 317.70V324.00M173.20 317.70V324.00M175.60 317.70V324.00" stroke="#fff" stroke-width="1.25" fill="none"/></g>
<rect x="147" y="236.3" width="24.30000000000001" height="85.5" fill="none" stroke="#000" stroke-width="1.2"/>
<path d="M60.5 208.6V323.40000000000003M60.5 321.8H188" fill="none" stroke="#000" stroke-width="1.15"/>
<path d="M188 321.8v3" stroke="#000" stroke-width="1"/>
<path d="M56.9 208.6H60.5" stroke="#000" stroke-width="1.15"/>
<text x="51.8" y="214.2" text-anchor="end" font-family="'Liberation Serif',serif" font-weight="bold" stroke="#000" stroke-width="0.3" font-size="15.7">200</text>
<path d="M56.9 231.24H60.5" stroke="#000" stroke-width="1.15"/>
<text x="51.8" y="236.84" text-anchor="end" font-family="'Liberation Serif',serif" font-weight="bold" stroke="#000" stroke-width="0.3" font-size="15.7">160</text>
<path d="M56.9 253.88H60.5" stroke="#000" stroke-width="1.15"/>
<text x="51.8" y="259.48" text-anchor="end" font-family="'Liberation Serif',serif" font-weight="bold" stroke="#000" stroke-width="0.3" font-size="15.7">120</text>
<path d="M56.9 276.52H60.5" stroke="#000" stroke-width="1.15"/>
<text x="51.8" y="282.12" text-anchor="end" font-family="'Liberation Serif',serif" font-weight="bold" stroke="#000" stroke-width="0.3" font-size="15.7">80</text>
<path d="M56.9 299.16H60.5" stroke="#000" stroke-width="1.15"/>
<text x="51.8" y="304.76000000000005" text-anchor="end" font-family="'Liberation Serif',serif" font-weight="bold" stroke="#000" stroke-width="0.3" font-size="15.7">40</text>
<path d="M56.9 321.8H60.5" stroke="#000" stroke-width="1.15"/>
<text x="51.8" y="327.40000000000003" text-anchor="end" font-family="'Liberation Serif',serif" font-weight="bold" stroke="#000" stroke-width="0.3" font-size="15.7">0</text>
<text x="59" y="204.8" font-family="'Liberation Sans',sans-serif" font-weight="bold" font-size="23.5">C</text>
<text x="111.2" y="343" font-family="'Liberation Serif',serif" font-weight="bold" stroke="#000" stroke-width="0.3" font-size="16">WT</text>
<path d="M248.3 208.6H376.2V321.8" fill="none" stroke="#808080" stroke-width="1"/>
<path d="M277.8 295V288.5M275.1 288.5H280.5" stroke="#000" stroke-width="1.25" fill="none"/>
<rect x="266.3" y="295" width="23.0" height="26.80000000000001" fill="#fff" stroke="#000" stroke-width="1.2"/>
<path d="M301.15 224.2V221M298.45 221H303.84999999999997" stroke="#000" stroke-width="1.25" fill="none"/>
<rect x="289.3" y="224.2" width="23.69999999999999" height="97.60000000000002" fill="#b2b2b2" stroke="#000" stroke-width="1.2"/>
<path d="M324.25 268.8V262.5M321.55 262.5H326.95" stroke="#000" stroke-width="1.25" fill="none"/>
<rect x="313" y="268.8" width="22.5" height="53.0" fill="url(#speck)" stroke="#000" stroke-width="1.2"/>
<path d="M347.6 270.6V263.5M344.90000000000003 263.5H350.3" stroke="#000" stroke-width="1.25" fill="none"/>
<clipPath id="bc4"><rect x="335.7" y="270.6" width="23.80000000000001" height="51.19999999999999"/></clipPath><g clip-path="url(#bc4)"><rect x="335.7" y="270.6" width="23.80000000000001" height="51.19999999999999" fill="#000"/><path d="M335.7 276.50H359.5M315.25 270.60V276.50M317.95 270.60V276.50M326.25 270.60V276.50M328.95 270.60V276.50M337.25 270.60V276.50M339.95 270.60V276.50M348.25 270.60V276.50M350.95 270.60V276.50M359.25 270.60V276.50M361.95 270.60V276.50M335.7 282.70H359.5M321.15 276.50V282.70M323.85 276.50V282.70M332.15 276.50V282.70M334.85 276.50V282.70M343.15 276.50V282.70M345.85 276.50V282.70M354.15 276.50V282.70M356.85 276.50V282.70M365.15 276.50V282.70M367.85 276.50V282.70M335.7 288.90H359.5M315.25 282.70V288.90M317.95 282.70V288.90M326.25 282.70V288.90M328.95 282.70V288.90M337.25 282.70V288.90M339.95 282.70V288.90M348.25 282.70V288.90M350.95 282.70V288.90M359.25 282.70V288.90M361.95 282.70V288.90M335.7 295.10H359.5M321.15 288.90V295.10M323.85 288.90V295.10M332.15 288.90V295.10M334.85 288.90V295.10M343.15 288.90V295.10M345.85 288.90V295.10M354.15 288.90V295.10M356.85 288.90V295.10M365.15 288.90V295.10M367.85 288.90V295.10M335.7 301.30H359.5M315.25 295.10V301.30M317.95 295.10V301.30M326.25 295.10V301.30M328.95 295.10V301.30M337.25 295.10V301.30M339.95 295.10V301.30M348.25 295.10V301.30M350.95 295.10V301.30M359.25 295.10V301.30M361.95 295.10V301.30M335.7 307.50H359.5M321.15 301.30V307.50M323.85 301.30V307.50M332.15 301.30V307.50M334.85 301.30V307.50M343.15 301.30V307.50M345.85 301.30V307.50M354.15 301.30V307.50M356.85 301.30V307.50M365.15 301.30V307.50M367.85 301.30V307.50M335.7 313.70H359.5M315.25 307.50V313.70M317.95 307.50V313.70M326.25 307.50V313.70M328.95 307.50V313.70M337.25 307.50V313.70M339.95 307.50V313.70M348.25 307.50V313.70M350.95 307.50V313.70M359.25 307.50V313.70M361.95 307.50V313.70M335.7 319.90H359.5M321.15 313.70V319.90M323.85 313.70V319.90M332.15 313.70V319.90M334.85 313.70V319.90M343.15 313.70V319.90M345.85 313.70V319.90M354.15 313.70V319.90M356.85 313.70V319.90M365.15 313.70V319.90M367.85 313.70V319.90M335.7 326.10H359.5M315.25 319.90V326.10M317.95 319.90V326.10M326.25 319.90V326.10M328.95 319.90V326.10M337.25 319.90V326.10M339.95 319.90V326.10M348.25 319.90V326.10M350.95 319.90V326.10M359.25 319.90V326.10M361.95 319.90V326.10" stroke="#fff" stroke-width="1.25" fill="none"/></g>
<rect x="335.7" y="270.6" width="23.80000000000001" height="51.19999999999999" fill="none" stroke="#000" stroke-width="1.2"/>
<path d="M248.3 208.6V323.40000000000003M248.3 321.8H376.2" fill="none" stroke="#000" stroke-width="1.15"/>
<path d="M376.2 321.8v3" stroke="#000" stroke-width="1"/>
<path d="M244.70000000000002 208.6H248.3" stroke="#000" stroke-width="1.15"/>
<text x="241.8" y="214.2" text-anchor="end" font-family="'Liberation Serif',serif" font-weight="bold" stroke="#000" stroke-width="0.3" font-size="15.7">100</text>
<path d="M244.70000000000002 231.24H248.3" stroke="#000" stroke-width="1.15"/>
<text x="241.8" y="236.84" text-anchor="end" font-family="'Liberation Serif',serif" font-weight="bold" stroke="#000" stroke-width="0.3" font-size="15.7">80</text>
<path d="M244.70000000000002 253.88H248.3" stroke="#000" stroke-width="1.15"/>
<text x="241.8" y="259.48" text-anchor="end" font-family="'Liberation Serif',serif" font-weight="bold" stroke="#000" stroke-width="0.3" font-size="15.7">60</text>
<path d="M244.70000000000002 276.52H248.3" stroke="#000" stroke-width="1.15"/>
<text x="241.8" y="282.12" text-anchor="end" font-family="'Liberation Serif',serif" font-weight="bold" stroke="#000" stroke-width="0.3" font-size="15.7">40</text>
<path d="M244.70000000000002 299.16H248.3" stroke="#000" stroke-width="1.15"/>
<text x="241.8" y="304.76000000000005" text-anchor="end" font-family="'Liberation Serif',serif" font-weight="bold" stroke="#000" stroke-width="0.3" font-size="15.7">20</text>
<path d="M244.70000000000002 321.8H248.3" stroke="#000" stroke-width="1.15"/>
<text x="241.8" y="327.40000000000003" text-anchor="end" font-family="'Liberation Serif',serif" font-weight="bold" stroke="#000" stroke-width="0.3" font-size="15.7">0</text>
<text x="246.6" y="204.2" font-family="'Liberation Sans',sans-serif" font-weight="bold" font-size="23.5">D</text>
<text x="281.2" y="343" font-family="'Liberation Serif',serif" font-weight="bold" stroke="#000" stroke-width="0.3" font-size="16.5">EDX<tspan font-size="10.5" dy="-5">R0.03</tspan></text>
<rect x="393.6" y="58.2" width="6.6" height="8.3" fill="#fff" stroke="#000" stroke-width="1.1"/>
<text x="405" y="66.5" font-family="'Liberation Serif',serif" font-size="14.25">Control</text>
<rect x="393.6" y="78.7" width="6.6" height="8.3" fill="#404040" stroke="#000" stroke-width="1.1"/>
<text x="405" y="87" font-family="'Liberation Serif',serif" font-size="14.25">IBMX</text>
<rect x="393.6" y="98.7" width="6.6" height="8.3" fill="#b2b2b2" stroke="#000" stroke-width="1.1"/>
<text x="405" y="107" font-family="'Liberation Serif',serif" font-size="14.25">8-pCPT-cGMP</text>
<rect x="393.6" y="119.0" width="6.6" height="8.3" fill="#000" stroke="#000" stroke-width="1.1"/>
<text x="405" y="127.3" font-family="'Liberation Serif',serif" font-size="14.25">8-pCPT-cGMP+OA</text>
<rect x="393.6" y="139.7" width="6.6" height="8.3" fill="url(#zl)" stroke="#000" stroke-width="1.1"/>
<text x="405" y="148" font-family="'Liberation Serif',serif" font-size="14.25">Okadaic Acid</text>
<rect x="384.6" y="231.2" width="6.6" height="8.3" fill="#fff" stroke="#000" stroke-width="1.1"/>
<text x="395.5" y="239.5" font-family="'Liberation Serif',serif" font-size="14.25">Control</text>
<rect x="384.6" y="251.7" width="6.6" height="8.3" fill="#b2b2b2" stroke="#000" stroke-width="1.1"/>
<text x="395.5" y="260" font-family="'Liberation Serif',serif" font-size="14.25">8-pCPT-cGMP</text>
<rect x="384.6" y="271.2" width="6.6" height="8.3" fill="url(#speck)" stroke="#000" stroke-width="1.1"/>
<text x="395.5" y="279.5" font-family="'Liberation Serif',serif" font-size="14.25">SNP</text>
<rect x="384.6" y="292.2" width="6.6" height="8.3" fill="url(#bl)" stroke="#000" stroke-width="1.1"/>
<text x="395.5" y="300.5" font-family="'Liberation Serif',serif" font-size="14.25">Zaprinast</text>
</svg></body></html>
